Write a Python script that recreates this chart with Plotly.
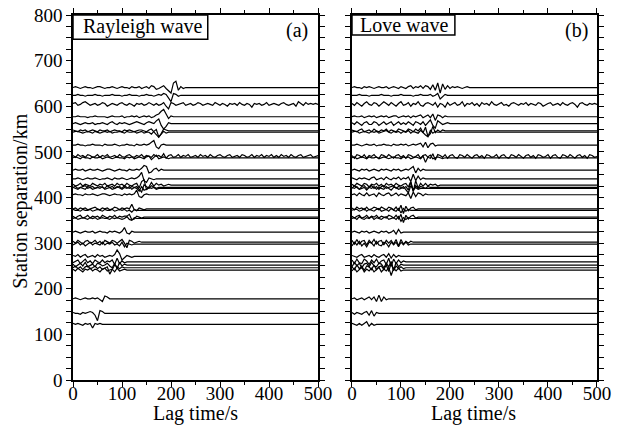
import plotly.graph_objects as go

# ---------------- data ----------------
# station separations (km) of the station pairs, shared by both panels
DISTANCES = [641, 624, 604, 577, 562, 546, 543, 515, 490, 487, 460, 441, 427, 422, 420,
             406, 375, 372, 357, 354, 324, 302, 298, 271, 259, 252, 246, 241, 178, 146, 122]

SAMPLE_DT = 5      # s between the read samples
AMP_UNIT = 2.0     # km of vertical offset per amplitude unit
T_END = 500        # traces continue flat to the end of the lag window

# Rayleigh-wave cross-correlation traces (amplitude units, one sample per 5 s, flat afterwards)
RAYLEIGH_AMPS = [
    [0,1,0,-1,0,1,0,0,-1,0,1,1,0,-1,0,0,1,0,-1,0,1,0,0,-1,1,0,0,1,-1,0,
     1,-1,2,1,-2,-1,1,2,-1,-3,-6,5,7,-3,1,-1,0],
    [0,0,1,0,0,-1,0,0,0,1,0,0,-1,0,0,0,1,0,0,0,-1,0,0,1,0,0,0,-1,0,0,1,0,0,-1,0,1,
     0,2,1,-3,-7,2,1,-1,0],
    [1,2,-1,0,2,3,1,-1,0,1,-1,0,2,1,-2,0,1,0,-1,1,
     2,0,-1,1,0,-2,1,0,1,-1,0,2,0,-1,1,-1,0,2,-2,-5,
     2,1,-1,0,1,2,-1,0,1,-1,0,2,1,-1,0,1,0,-1,2,0,
     -1,1,0,-2,1,0,1,-1,2,0,-1,1,0,-3,1,0,1,-1,0,2,
     -1,0,1,0,-1,1,2,0,-1,0,1,-2,3,1,-1,2,0,1,0,1,0],
    [0,0,1,0,0,0,-1,0,0,1,0,0,0,0,-1,0,1,0,0,0,1,-1,0,0,1,0,1,-1,0,1,0,
     1,-1,0,2,3,6,8,3,-2,1,0,0],
    [0,1,0,-1,0,1,0,0,1,-1,0,0,1,0,-1,1,2,0,-1,1,0,1,0,-1,0,1,2,1,0,-1,1,
     2,1,0,3,5,-2,-6,-3,1,0,0],
    [1,0,-1,1,0,1,-1,0,1,0,-1,1,0,0,1,-1,0,1,0,0,-1,1,0,1,0,-1,0,1,1,0,-1,
     1,2,-1,-4,-7,-3,2,1,0,0],
    [0,1,1,0,-1,0,1,0,-1,1,0,-1,0,1,0,1,-1,0,0,1,0,-1,1,0,0,1,-1,0,1,-1,0,
     0,-2,1,3,-5,-2,1,-1,0,0],
    [0,0,1,0,0,-1,0,0,1,0,0,0,-1,1,0,0,0,1,0,-1,0,0,1,0,0,-1,1,0,0,
     1,0,1,3,5,-2,-4,0,1,0],
    [1,-1,2,0,1,-1,2,1,-1,0,2,-1,1,0,2,-1,0,1,-1,2,
     0,-1,1,2,0,-1,1,0,2,-1,1,0,-1,2,0,1,-1,3,-2,1,
     2,-1,0,2,-1,1,0,2,-1,0,1,-1,2,0,1,-1,2,0,-1,1,
     2,0,-1,1,2,-1,0,1,-1,2,1,-1,0,2,-1,1,0,2,-1,1,
     0,2,-1,1,-1,2,0,1,-1,2,0,-1,1,2,-1,0,1,2,-1,0,1],
    [0,1,0,-1,1,0,0,-1,1,0,0,1,-1,0,1,0,-1,0,1,0,0,-1,1,0,1,-1,0,1,0,
     -1,1,2,-2,1,3,-1,0,1,0,-1,0],
    [0,1,0,0,1,-1,0,1,0,0,1,0,-1,0,1,1,0,-1,0,1,0,0,-1,1,0,0,1,
     0,2,5,4,-3,-2,1,2,-1,1,0,0],
    [0,0,1,0,-1,0,1,0,0,1,0,-1,0,0,1,0,-1,1,0,0,1,0,-1,0,1,0,
     1,3,7,-2,-4,1,0,-1,0,0],
    [1,-1,0,2,-1,1,0,-1,2,0,-1,1,0,2,-1,0,1,-1,2,0,1,-1,2,0,-1,1,
     2,-3,4,6,-5,-2,3,-1,2,0,1,-1,0,1,0],
    [0,1,-1,0,1,2,-1,0,1,-1,0,1,0,-1,2,0,1,-1,0,1,-1,2,0,-1,1,0,
     1,-2,-5,3,1,-1,2,0,-1,0,0],
    [1,0,-1,1,0,-1,2,1,-1,0,1,0,2,-1,0,1,-1,0,2,0,-1,1,0,2,-1,1,
     0,-3,2,-2,-1,1,0,1,-1,0,0],
    [0,1,0,0,-1,1,0,0,1,0,-1,0,1,1,0,-1,0,1,0,0,-1,1,0,1,
     0,1,5,-2,-3,0,1,0,0],
    [0,1,-1,1,0,1,-1,0,1,2,0,-1,1,0,1,-1,0,2,1,-1,1,0,
     1,0,5,-1,-2,1,0,-1,0],
    [1,0,0,-1,1,0,0,1,-1,0,1,0,-1,1,0,0,1,-1,0,1,0,1,
     -1,0,-2,1,0,0,0],
    [1,-1,1,2,-1,0,2,-1,1,0,1,-1,2,0,-1,1,0,2,-1,1,0,1,
     1,3,-3,-2,1,0,-1,0,0],
    [0,1,-1,0,1,0,-1,1,0,1,-1,0,1,0,0,-1,1,0,1,0,-1,0,
     2,-1,-2,1,0,0,0],
    [0,1,0,-1,0,1,0,0,1,-1,0,1,0,0,-1,1,0,1,0,-1,
     1,5,-1,-2,1,0,0],
    [1,-1,2,0,-2,1,2,-1,0,2,-1,1,-2,2,0,-1,2,1,-1,
     1,3,-1,-6,2,1,-1,0,1,0],
    [-1,1,2,-1,1,-2,0,2,-1,1,0,-1,2,-1,1,0,2,-1,0,
     -2,2,-3,1,0,-1,0,0],
    [1,0,2,-1,1,2,-1,0,1,-1,2,0,1,-1,0,1,0,
     2,7,3,-4,-2,1,0,-1,0,0],
    [-1,1,2,-2,0,3,-1,1,-2,2,0,-1,2,-1,1,0,
     2,-3,4,-2,1,-1,0,0,0],
    [1,-2,0,2,-1,3,-2,0,1,-2,2,1,-1,0,2,-1,
     -3,2,-4,3,-1,1,0,0,0],
    [0,2,-1,1,-2,1,2,-1,0,2,-1,1,-2,0,1,
     -7,-2,3,1,-1,1,0,0,0],
    [1,-1,2,0,-2,1,0,2,-1,1,0,-2,1,2,-1,0,
     1,-2,2,-1,0,1,0,0],
    [0,1,0,-1,0,1,0,0,1,0,1,
     -1,-3,3,2,0,0],
    [1,0,0,-1,1,0,1,2,1,
     -2,-8,3,2,0,0],
    [1,0,1,0,-1,1,0,1,
     -4,1,0,1,0],
]

# Love-wave cross-correlation traces
LOVE_AMPS = [
    [0,1,0,0,-1,1,0,1,0,-1,0,1,0,0,1,-1,0,1,0,-1,
     1,0,-1,1,2,-1,1,0,2,-1,2,1,
     -2,3,-3,5,-6,4,-2,2,-1,1,0,
     1,0,-1,0,1,0,0,0],
    [0,0,0,1,0,0,0,-1,0,0,0,0,1,0,0,0,-1,0,0,0,1,0,0,0,0,-1,0,0,1,0,0,
     0,1,-1,0,2,-4,-2,1,0,0],
    [1,-1,2,0,-2,1,3,0,-1,2,1,-2,0,3,1,-1,2,0,-2,1,
     3,-1,0,2,-2,1,0,3,-1,-2,1,2,0,-1,2,-3,1,0,-3,2,
     -1,1,2,-1,0,3,-2,1,0,2,-1,1,-2,2,0,1,-1,3,0,-1,
     1,2,-1,0,-2,1,2,0,-1,1,0,2,-1,1,0,-1,2,1,-2,0,
     1,2,-1,0,1,-1,2,0,-1,1,2,0,-3,1,2,0,-1,1,0,1,0],
    [0,1,0,0,1,-1,0,1,0,1,-1,0,1,0,1,-1,0,1,1,-1,0,1,0,1,-1,1,0,
     1,2,-1,1,2,-1,3,-4,2,1,-1,1,0,0],
    [1,-1,2,0,-2,1,2,-1,-1,2,1,-2,0,2,-1,1,2,-2,0,2,-1,1,-1,2,0,-2,2,1,-1,2,-2,1,
     4,-2,-5,3,1,-1,0,1,0],
    [1,0,-1,1,2,-1,0,1,-1,2,0,-1,1,0,2,-1,1,0,-1,2,1,0,-1,2,1,-1,2,0,
     3,-2,4,-6,-3,5,-2,1,-1,1,0],
    [0,1,1,-1,0,1,0,-1,1,0,1,-1,0,1,2,0,-1,1,0,1,-1,1,0,2,-1,1,0,-1,
     2,-1,-3,-5,2,-1,1,0,0,0],
    [0,0,1,0,-1,0,1,0,0,1,-1,0,0,1,0,0,-1,1,0,0,1,0,1,-1,0,1,0,
     1,2,-2,3,-3,1,2,-1,0,0],
    [1,-2,2,1,-1,2,-2,1,0,2,-1,-2,2,1,-1,2,0,-2,1,2,
     -1,1,-2,2,1,-1,0,2,-2,1,2,-1,-2,3,-4,2,1,-1,2,-2,
     1,2,-1,-2,2,1,-1,2,0,-2,1,2,-1,1,-2,2,1,-1,0,2,
     -2,1,2,-1,-2,2,1,-1,2,0,-2,1,2,-1,1,-2,2,1,-1,0,
     2,-2,1,2,-1,-2,2,1,-1,2,0,-2,1,2,-1,1,-2,2,1,-1,0],
    [0,1,-1,0,1,0,-1,1,0,0,1,-1,0,1,0,-1,0,1,0,0,-1,1,0,1,-1,0,1,
     0,-1,2,-5,1,3,-1,0,1,0,-1,0],
    [0,1,0,-1,1,0,1,-1,0,1,0,-1,1,0,1,0,-1,1,0,1,-1,0,1,
     0,2,4,-3,2,-1,1,0,0,0],
    [1,0,-1,1,0,1,0,-1,1,2,-1,0,1,-1,2,0,-1,1,0,2,-1,1,
     0,2,-3,5,-2,3,-1,1,0,0,0],
    [1,-1,2,0,-1,2,1,-2,1,0,2,-1,1,-2,2,0,1,-1,2,0,-1,1,
     2,-2,4,-7,5,-3,2,-1,2,-1,1,0,1,-1,0],
    [-1,2,0,-2,1,2,-1,0,2,-1,1,-2,1,2,-1,0,1,2,-1,1,0,-1,
     1,-3,6,-4,2,-1,1,0,-1,1,0,0,0],
    [1,0,2,-1,0,1,-2,1,0,2,-1,1,0,-1,2,0,-2,1,1,-1,0,2,
     -2,-5,3,-1,1,-1,0,0,0],
    [0,1,-1,2,0,-1,2,-1,0,1,-2,2,0,-1,1,2,-1,0,2,-1,1,0,
     -1,2,-4,3,-2,2,1,-1,1,0,0],
    [1,-1,2,0,1,-1,2,-1,0,2,1,-1,2,0,-1,2,1,-1,
     2,-2,4,-5,3,-2,1,2,-1,0,0],
    [0,1,1,-1,0,2,-1,1,0,-1,1,2,-1,0,1,-1,2,0,
     -1,2,-3,2,-1,1,0,0,0],
    [1,-1,1,2,-1,0,2,-1,1,0,2,-1,1,0,-1,2,1,-1,2,
     -2,3,-6,2,-2,1,2,-1,0,0],
    [0,1,-1,2,0,-1,1,0,2,-1,1,0,-1,1,2,-1,0,1,-1,
     2,-3,1,-1,1,0,0,0],
    [0,1,0,-1,1,0,1,-1,0,1,0,-1,1,0,1,-1,0,
     2,-2,3,-1,0,0],
    [2,-2,3,-2,1,2,-3,2,-1,3,-2,1,2,-3,2,-1,2,-2,3,
     -4,3,-2,1,-1,1,0,0],
    [-2,2,-1,3,-2,1,-3,2,1,-2,3,-1,-2,2,1,-3,2,-1,2,
     -3,2,-1,2,-1,0,0,0],
    [1,0,-1,1,2,-1,0,1,-1,2,0,-1,1,2,-1,
     3,-2,2,-1,1,0,0,0],
    [2,-2,3,-1,-2,3,1,-3,2,-1,3,-2,1,2,-3,
     4,-5,3,-2,2,-1,1,0],
    [-2,3,-1,2,-3,1,2,-2,3,-1,-2,2,1,-3,2,
     -2,4,-6,3,-2,1,0,0],
    [1,-2,3,-1,2,-3,2,1,-2,3,-2,1,2,-2,3,
     -4,5,-3,2,-1,1,-1,0],
    [-1,2,-2,1,3,-2,1,-1,2,-2,1,3,-2,1,-1,
     3,-6,2,-1,2,-1,0,0],
    [0,1,-1,0,1,-1,1,
     2,-1,2,-3,4,-3,2,-1,0],
    [1,-1,1,0,-1,1,
     2,-2,3,-3,1,0],
    [1,0,-1,1,-1,
     1,3,-2,1,-1,0],
]

X_TICKS = [0, 100, 200, 300, 400, 500]
Y_TICKS = [0, 100, 200, 300, 400, 500, 600, 700, 800]
X_TITLE = "Lag time/s"
Y_TITLE = "Station separation/km"

# ---------------- figure ----------------
FONT = "Liberation Serif, Times New Roman, serif"
XDOM_A = [0, 0.4676]
XDOM_B = [0.5324, 1]


def build_xy(amps_list):
    xs, ys = [], []
    for d, amps in zip(DISTANCES, amps_list):
        for i, a in enumerate(amps):
            xs.append(i * SAMPLE_DT)
            ys.append(d + a * AMP_UNIT)
        xs.append(T_END)
        ys.append(d)
        xs.append(None)
        ys.append(None)
    return xs, ys


fig = go.Figure()
xr, yr = build_xy(RAYLEIGH_AMPS)
xl, yl = build_xy(LOVE_AMPS)
fig.add_trace(go.Scatter(x=xr, y=yr, mode="lines", line=dict(color="black", width=1.2),
                         xaxis="x", yaxis="y", showlegend=False, hoverinfo="skip"))
fig.add_trace(go.Scatter(x=xl, y=yl, mode="lines", line=dict(color="black", width=1.2),
                         xaxis="x2", yaxis="y2", showlegend=False, hoverinfo="skip"))
# invisible carriers for the tick-label-only axes
fig.add_trace(go.Scatter(x=[None], y=[None], xaxis="x3", yaxis="y", showlegend=False,
                         hoverinfo="skip"))
fig.add_trace(go.Scatter(x=[None], y=[None], xaxis="x4", yaxis="y2", showlegend=False,
                         hoverinfo="skip"))

axis_common = dict(
    showline=True, linecolor="black", linewidth=1.5, mirror="allticks",
    ticks="outside", ticklen=5, tickwidth=1, tickcolor="black",
    showgrid=False, zeroline=False, automargin=False,
    tickfont=dict(family=FONT, size=19, color="black"),
)
label_axis = dict(range=[0, 500], tickvals=X_TICKS, ticks="", showline=False,
                  showgrid=False, zeroline=False, automargin=False, side="bottom",
                  tickfont=dict(family=FONT, size=19, color="black"))
x_minor = dict(dtick=50, ticks="outside", ticklen=3, tickcolor="black")
y_minor = dict(dtick=25, ticks="outside", ticklen=3, tickcolor="black")

fig.update_layout(
    width=620, height=427,
    margin=dict(l=73, r=23, t=15, b=47),
    paper_bgcolor="white", plot_bgcolor="white",
    font=dict(family=FONT, size=19, color="black"),
    xaxis=dict(domain=XDOM_A, range=[0, 500], tickvals=X_TICKS, anchor="y",
               minor=x_minor, showticklabels=False, **axis_common),
    yaxis=dict(domain=[0, 1], range=[0, 800], tickvals=Y_TICKS, anchor="x",
               minor=y_minor, **axis_common),
    xaxis2=dict(domain=XDOM_B, range=[0, 500], tickvals=X_TICKS, anchor="y2",
                minor=x_minor, showticklabels=False, **axis_common),
    yaxis2=dict(domain=[0, 1], range=[0, 800], tickvals=Y_TICKS, anchor="x2",
                showticklabels=False, minor=y_minor, **axis_common),
    xaxis3=dict(domain=XDOM_A, anchor="y", overlaying="x", **label_axis),
    xaxis4=dict(domain=XDOM_B, anchor="y2", overlaying="x2", **label_axis),
)

# axis titles
for xc in (0.2347, 0.765):
    fig.add_annotation(xref="paper", yref="paper", x=xc, y=-0.091, text=X_TITLE,
                       showarrow=False, xanchor="center", yanchor="middle",
                       font=dict(family=FONT, size=20))
fig.add_annotation(xref="paper", yref="paper", x=-0.1, y=0.49, text=Y_TITLE,
                   showarrow=False, xanchor="center", yanchor="middle", textangle=-90,
                   font=dict(family=FONT, size=20))

# labelled boxes
fig.add_shape(type="rect", xref="x", yref="y", x0=0, x1=275, y0=747, y1=800,
              line=dict(color="black", width=1.5), fillcolor="white", layer="above")
fig.add_shape(type="rect", xref="x2", yref="y2", x0=0, x1=210, y0=756, y1=800,
              line=dict(color="black", width=1.5), fillcolor="white", layer="above")

fig.add_annotation(xref="x", yref="y", x=16, y=775, text="Rayleigh wave", showarrow=False,
                   xanchor="left", yanchor="middle", font=dict(family=FONT, size=20))
fig.add_annotation(xref="x", yref="y", x=457, y=767, text="(a)", showarrow=False,
                   xanchor="center", yanchor="middle", font=dict(family=FONT, size=20))
fig.add_annotation(xref="x2", yref="y2", x=13, y=778, text="Love wave", showarrow=False,
                   xanchor="left", yanchor="middle", font=dict(family=FONT, size=20))
fig.add_annotation(xref="x2", yref="y2", x=459, y=767, text="(b)", showarrow=False,
                   xanchor="center", yanchor="middle", font=dict(family=FONT, size=20))

fig.write_html("out.html")
